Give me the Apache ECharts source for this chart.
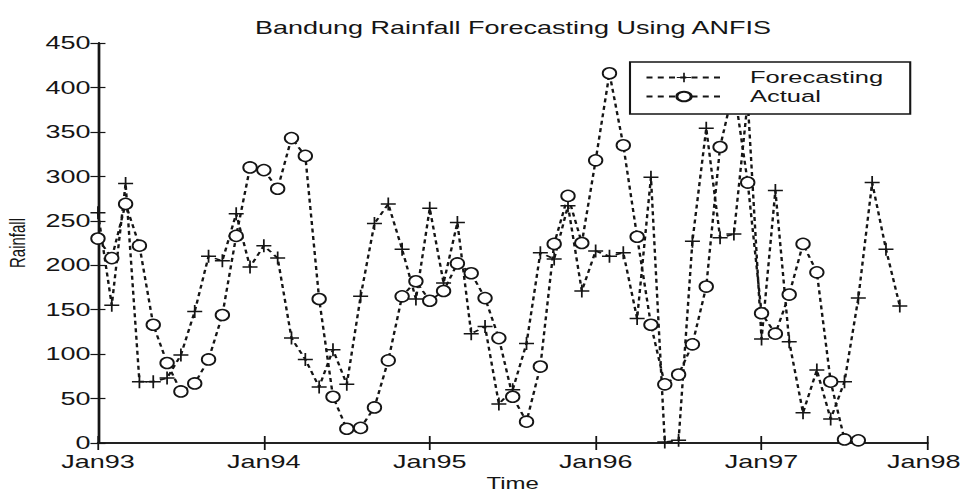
<!DOCTYPE html>
<html>
<head>
<meta charset="utf-8">
<script src="https://cdn.jsdelivr.net/npm/echarts@6/dist/echarts.min.js"></script>
<style>
  html, body { margin: 0; padding: 0; background: #fff; overflow: hidden; }
  /* the scanned figure is stretched sideways, so draw narrow and widen it */
  #chart { width: 640.67px; height: 493px; transform: scaleX(1.5); transform-origin: 0 0; }
</style>
</head>
<body>
<div id="chart"></div>
<script>
const yearLabels = ['Jan93', 'Jan94', 'Jan95', 'Jan96', 'Jan97', 'Jan98'];

// monthly values, index 0 = Jan93
const forecasting = [
	259, 155, 292, 69, 69, 73, 99, 148, 210, 205, 258, 198,
	222, 208, 118, 94, 63, 105, 66, 165, 247, 269, 218, 162,
	264, 180, 248, 123, 131, 44, 60, 112, 214, 207, 267, 171,
	216, 210, 214, 140, 299, 1, 3, 227, 354, 231, 235, 385,
	117, 284, 114, 34, 82, 27, 69, 163, 293, 218, 154
];
const actual = [
	230, 208, 269, 222, 133, 90, 58, 67, 94, 144, 233, 310,
	307, 286, 343, 323, 162, 52, 16, 17, 40, 93, 165, 182,
	160, 171, 202, 191, 163, 118, 52, 24, 86, 224, 278, 225,
	318, 416, 335, 232, 133, 66, 77, 111, 176, 333, 400, 293,
	146, 123, 167, 224, 192, 69, 4, 3
];

const ink = '#151515';
const font = 'Liberation Sans, Arial, Helvetica, sans-serif';
const plus = 'path://M0,5.3H12V6.7H0ZM5.3,0H6.7V12H5.3Z';

function toPairs(arr) {
	return arr.map((v, i) => [i, v]);
}

const chart = echarts.init(document.getElementById('chart'), null, {renderer: 'svg'});

chart.setOption({
	animation: false,
	backgroundColor: '#fff',
	textStyle: {fontFamily: font, color: ink},
	title: {
		text: 'Bandung Rainfall Forecasting Using ANFIS',
		left: 170,
		top: 19,
		padding: 0,
		textStyle: {fontSize: 18, fontWeight: 'normal', color: ink, fontFamily: font},
	},
	legend: {
		orient: 'vertical',
		left: 420,
		top: 62,
		padding: [6, 18, 8, 10],
		itemWidth: 50,
		itemHeight: 12,
		itemGap: 0,
		selectedMode: false,
		backgroundColor: '#fff',
		borderColor: ink,
		borderWidth: 1.4,
		borderRadius: 0,
		textStyle: {fontSize: 17, lineHeight: 19, color: ink, fontFamily: font, padding: [0, 0, 0, 14]},
		data: ['Forecasting', 'Actual'],
	},
	grid: {left: 65.3, right: 22.7, top: 43, bottom: 50, outerBoundsMode: 'none'},
	xAxis: [
		{
			type: 'value',
			min: 0,
			max: 60,
			interval: 12,
			name: 'Time',
			nameLocation: 'middle',
			nameGap: 30,
			nameTextStyle: {fontSize: 16, color: ink},
			axisLine: {lineStyle: {color: ink, width: 1.6}},
			axisTick: {inside: true, length: 7, lineStyle: {color: ink, width: 1.2}},
			axisLabel: {
				margin: 10,
				fontSize: 18,
				color: ink,
				showMinLabel: true,
				showMaxLabel: true,
				formatter: v => (v === 60 ? '{last|' + yearLabels[v / 12] + '}' : yearLabels[v / 12]),
				rich: {last: {fontSize: 18, color: ink, padding: [0, 5, 0, 0]}},
			},
			splitLine: {show: false},
		},
		{
			type: 'value',
			position: 'top',
			min: 0,
			max: 60,
			interval: 12,
			axisLine: {lineStyle: {color: ink, width: 1.6}},
			axisTick: {inside: true, length: 7, lineStyle: {color: ink, width: 1.2}},
			axisLabel: {show: false},
			splitLine: {show: false},
		},
	],
	yAxis: [
		{
			type: 'value',
			min: 0,
			max: 450,
			interval: 50,
			name: 'Rainfall',
			nameLocation: 'middle',
			nameGap: 45,
			nameTextStyle: {fontSize: 15, color: ink},
			axisLine: {show: true, lineStyle: {color: ink, width: 1.6}},
			axisTick: {show: true, inside: true, length: 5, lineStyle: {color: ink, width: 1.2}},
			axisLabel: {margin: 5, fontSize: 18, color: ink},
			splitLine: {show: false},
		},
		{
			type: 'value',
			position: 'right',
			min: 0,
			max: 450,
			interval: 50,
			axisLine: {show: true, lineStyle: {color: ink, width: 1.6}},
			axisTick: {show: true, inside: true, length: 5, lineStyle: {color: ink, width: 1.2}},
			axisLabel: {show: false},
			splitLine: {show: false},
		},
	],
	series: [
		{
			name: 'Forecasting',
			type: 'line',
			data: toPairs(forecasting),
			symbol: plus,
			symbolSize: [10, 13],
			itemStyle: {color: ink},
			lineStyle: {color: ink, width: 1.6, type: [4, 3.5]},
			z: 3,
		},
		{
			name: 'Actual',
			type: 'line',
			data: toPairs(actual),
			symbol: 'circle',
			symbolSize: [9, 11],
			itemStyle: {color: '#fff', borderColor: ink, borderWidth: 1.4},
			lineStyle: {color: ink, width: 1.6, type: [4, 3.5]},
			z: 3,
		},
	],
});
</script>
</body>
</html>
